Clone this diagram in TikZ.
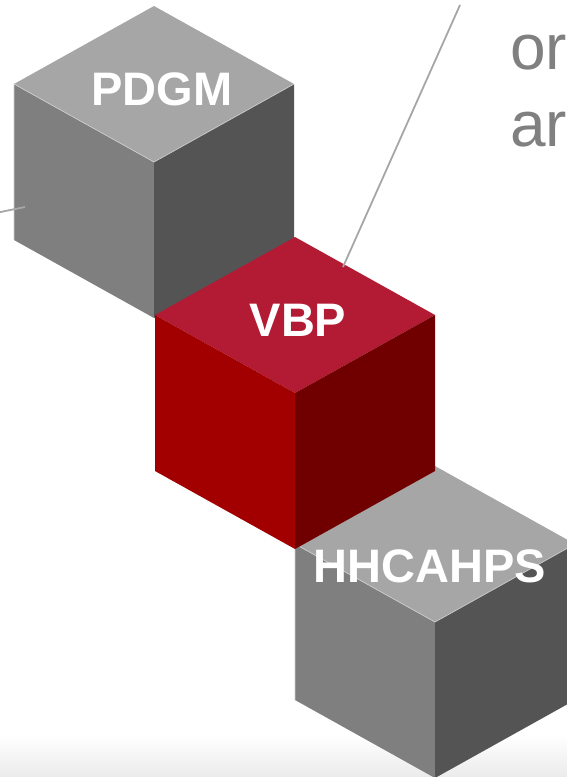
\documentclass[tikz,border=0pt]{standalone}
\usepackage{fontspec}
\setmainfont{Liberation Sans}
\definecolor{graytop}{HTML}{A6A6A6}
\definecolor{grayleft}{HTML}{7F7F7F}
\definecolor{grayright}{HTML}{545454}
\definecolor{redtop}{HTML}{B31B34}
\definecolor{redleft}{HTML}{A20000}
\definecolor{redright}{HTML}{700000}
\definecolor{leadgray}{HTML}{A6A6A6}
\definecolor{textgray}{HTML}{808080}
\definecolor{edgelight}{HTML}{CFCFCF}

% isometric cube: #1 = top vertex, #2/#3/#4 = top/left/right face colours, #5 = extra edge style
\newcommand\isocube[5]{%
  \begin{scope}[shift={#1}]
    \fill[#2] (0,0) -- (140,78) -- (0,156) -- (-140,78) -- cycle;
    \fill[#3] (-140,78) -- (0,156) -- (0,312) -- (-140,234) -- cycle;
    \fill[#4] (140,78) -- (0,156) -- (0,312) -- (140,234) -- cycle;
    \draw[#5] (-140,234) -- (-140,78) -- (0,156) -- (140,78);
  \end{scope}}

\tikzset{
  cubelabel/.style={text=white, font=\fontsize{47}{56}\selectfont\bfseries, inner sep=0pt},
  sidetext/.style={text=textgray, font=\fontsize{64}{77}\selectfont, inner sep=0pt, anchor=base west},
  leader/.style={draw=leadgray, line width=1.8pt},
  grayedge/.style={draw=edgelight, line width=0.7pt},
  noedge/.style={draw=none}
}

\begin{document}
\begin{tikzpicture}[x=1pt,y=-1pt]
  \useasboundingbox (0,0) rectangle (567,777);
  \clip (0,0) rectangle (567,777);

  % soft floor shading along the bottom
  \fill[top color=white, bottom color=black!8] (0,735) rectangle (567,777);

  % the three cubes, back to front
  \isocube{(154,6)}{graytop}{grayleft}{grayright}{grayedge}
  \isocube{(435,466)}{graytop}{grayleft}{grayright}{grayedge}
  \isocube{(295,237)}{redtop}{redleft}{redright}{noedge}

  % leader lines
  \coordinate (leadtop) at (460,5);
  \coordinate (vbpend) at (343,267);
  \coordinate (leadleft) at (-2,212.5);
  \coordinate (pdgmend) at (25,207);
  \draw[leader] (leadtop) -- (vbpend);
  \draw[leader] (leadleft) -- (pdgmend);

  % labels
  \node[cubelabel] (pdgm) at (162,89) {PDGM};
  \node[cubelabel] (vbp) at (298,320) {VBP};
  \node[cubelabel] (hhcahps) at (430,566) {HHCAHPS};

  % text on the right
  \node[sidetext] (line1) at (510,69) {or};
  \node[sidetext] (line2) at (510,146) {ar};
\end{tikzpicture}
\end{document}
